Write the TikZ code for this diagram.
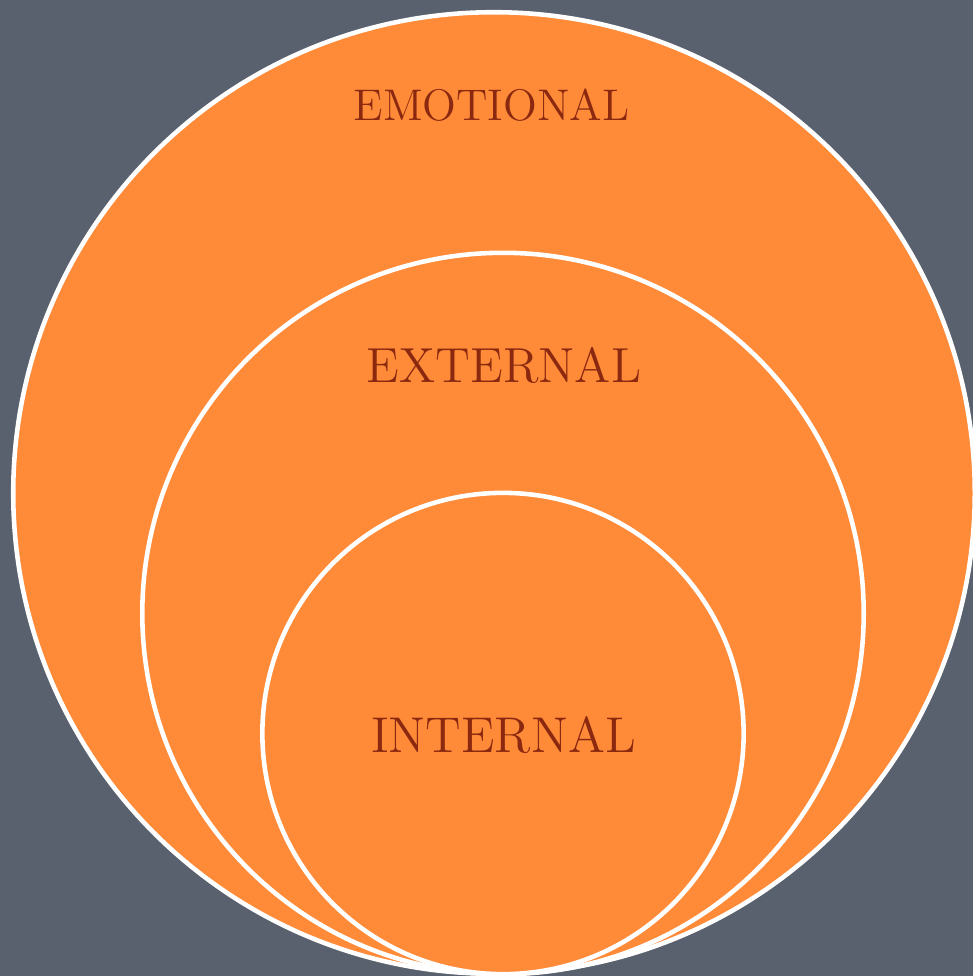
\documentclass[tikz,border=0pt]{standalone}
\usepackage{xcolor}
\definecolor{bgslate}{HTML}{59616E}
\definecolor{ringorange}{HTML}{FF8A38}
\definecolor{labelred}{HTML}{8A2810}
\begin{document}
\begin{tikzpicture}[x=0.01cm,y=-0.01cm,
  ring/.style={circle,draw=white,fill=ringorange,line width=1.3pt,inner sep=0pt},
  lbl/.style={text=labelred,inner sep=0pt,font=\fontsize{12.6}{14}\selectfont}]
\fill[bgslate] (0,0) rectangle (973,976);
\useasboundingbox (0,0) rectangle (973,976);
\node[ring,minimum size=9.61cm] (outer) at (494,493) {};
\node[ring,minimum size=7.21cm] (middle) at (503,613.5) {};
\node[ring,minimum size=4.81cm] (inner) at (503,733.5) {};
\node[lbl] (emo) at (491.5,105) {EMOTIONAL};
\node[lbl,font=\fontsize{14.0}{16}\selectfont] (ext) at (504,365) {EXTERNAL};
\node[lbl,font=\fontsize{14.3}{16}\selectfont] (int) at (503.5,735) {INTERNAL};
\end{tikzpicture}
\end{document}
